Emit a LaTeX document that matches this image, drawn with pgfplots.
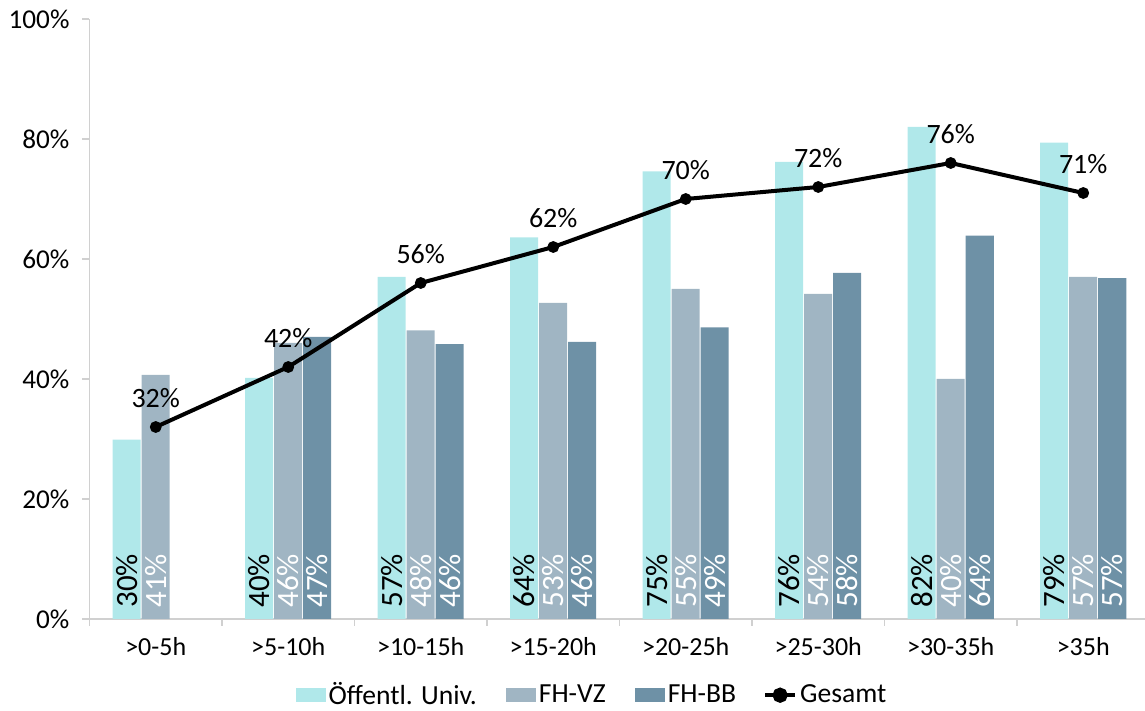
\documentclass[border=0pt]{standalone}
\usepackage{fontspec}
\setmainfont{Carlito}
\usepackage{pgfplots}
\pgfplotsset{compat=1.18}
\usepackage{pgfplotstable}
\definecolor{cUni}{HTML}{B0E8EA}
\definecolor{cVZ}{HTML}{A0B5C3}
\definecolor{cBB}{HTML}{6E91A6}
\definecolor{axgray}{HTML}{D0D0D0}

\pgfplotstableread{
x uni unil vz vzl bb bbl ges z zbb
0 29.9 30 40.7 41 nan nan 32 0 nan
1 40.2 40 46.0 46 47.0 47 42 0 0
2 57.0 57 48.1 48 45.8 46 56 0 0
3 63.6 64 52.7 53 46.2 46 62 0 0
4 74.6 75 55.0 55 48.6 49 70 0 0
5 76.2 76 54.2 54 57.7 58 72 0 0
6 82.0 82 40.0 40 63.9 64 76 0 0
7 79.4 79 57.0 57 56.8 57 71 0 0
}\datatable

\begin{document}
\begin{tikzpicture}
\begin{axis}[name=ax,
  scale only axis, width=530pt, height=300pt,
  xmin=-0.5, xmax=7.5, ymin=0, ymax=100,
  axis x line*=bottom, axis y line*=left,
  axis line style={draw=axgray, line width=0.75pt, -},
  xtick={-0.5,0.5,...,7.5},
  x tick label as interval,
  xticklabels={{>0-5h},{>5-10h},{>10-15h},{>15-20h},{>20-25h},{>25-30h},{>30-35h},{>35h}},
  ytick={0,20,...,100},
  yticklabel={\pgfmathprintnumber{\tick}\%},
  /pgf/number format/assume math mode=true,
  tick align=outside, major tick length=3.5pt,
  tick style={draw=axgray, line width=0.75pt},
  tick label style={text=black},
  xticklabel style={yshift=-2pt, font=\fontsize{13}{15}\selectfont},
  yticklabel style={xshift=-3pt, font=\fontsize{13.6}{15}\selectfont},
  legend style={at={(0.4745,-0.127)}, anchor=center, draw=none, fill=none,
    legend columns=-1, font=\fontsize{13.8}{16}\selectfont,
    nodes={inner xsep=1.5pt}},
]
\addplot[ybar, bar width=14pt, bar shift=-14.5pt, fill=cUni, draw=none,
  legend image code/.code={\fill[cUni] (0pt,-3.5pt) rectangle (15pt,3.5pt);}]
  table[x=x, y=uni]{\datatable};
\addlegendentry{Öffentl. Univ.}
\addplot[ybar, bar width=14pt, bar shift=0pt, fill=cVZ, draw=none,
  legend image code/.code={\path (-13pt,0pt); \fill[cVZ] (0pt,-3.5pt) rectangle (15pt,3.5pt);}]
  table[x=x, y=vz]{\datatable};
\addlegendentry{FH-VZ}
\addplot[ybar, bar width=14pt, bar shift=14.5pt, fill=cBB, draw=none,
  legend image code/.code={\path (-13pt,0pt); \fill[cBB] (0pt,-3.5pt) rectangle (15pt,3.5pt);}]
  table[x=x, y=bb]{\datatable};
\addlegendentry{FH-BB}
\addplot[black, line width=2pt, mark=*, mark size=2.7pt, mark options={line width=0.5pt},
  nodes near coords={\pgfmathprintnumber{\pgfplotspointmeta}\%}, point meta=y,
  every node near coord/.style={font=\fontsize{14}{16}\selectfont, text=black, anchor=center, yshift=14.5pt},
  legend image code/.code={\path (-12pt,0pt); \draw[line width=2pt] (0pt,0pt) -- (15pt,0pt); \fill (7.5pt,0pt) circle (2.8pt);}]
  table[x=x, y=ges]{\datatable};
\addlegendentry{Gesamt}
% bar value labels
\addplot[draw=none, mark=none, forget plot,
  nodes near coords={\pgfmathprintnumber{\pgfplotspointmeta}\%}, point meta=explicit,
  every node near coord/.style={xshift=-14.5pt, rotate=90, anchor=west, inner xsep=5.5pt,
    font=\fontsize{15.5}{17}\selectfont, text=black}]
  table[x=x, y=z, meta=unil]{\datatable};
\addplot[draw=none, mark=none, forget plot,
  nodes near coords={\pgfmathprintnumber{\pgfplotspointmeta}\%}, point meta=explicit,
  every node near coord/.style={rotate=90, anchor=west, inner xsep=5.5pt,
    font=\fontsize{15.5}{17}\selectfont, text=white}]
  table[x=x, y=z, meta=vzl]{\datatable};
\addplot[draw=none, mark=none, forget plot,
  nodes near coords={\pgfmathprintnumber{\pgfplotspointmeta}\%}, point meta=explicit,
  every node near coord/.style={xshift=14.5pt, rotate=90, anchor=west, inner xsep=5.5pt,
    font=\fontsize{15.5}{17}\selectfont, text=white}]
  table[x=x, y=zbb, meta=bbl]{\datatable};
\end{axis}
\pgfresetboundingbox
\path[use as bounding box] (ax.south west) ++(-44.75pt,-46pt) rectangle ++(572.5pt,355.5pt);
\end{tikzpicture}
\end{document}
